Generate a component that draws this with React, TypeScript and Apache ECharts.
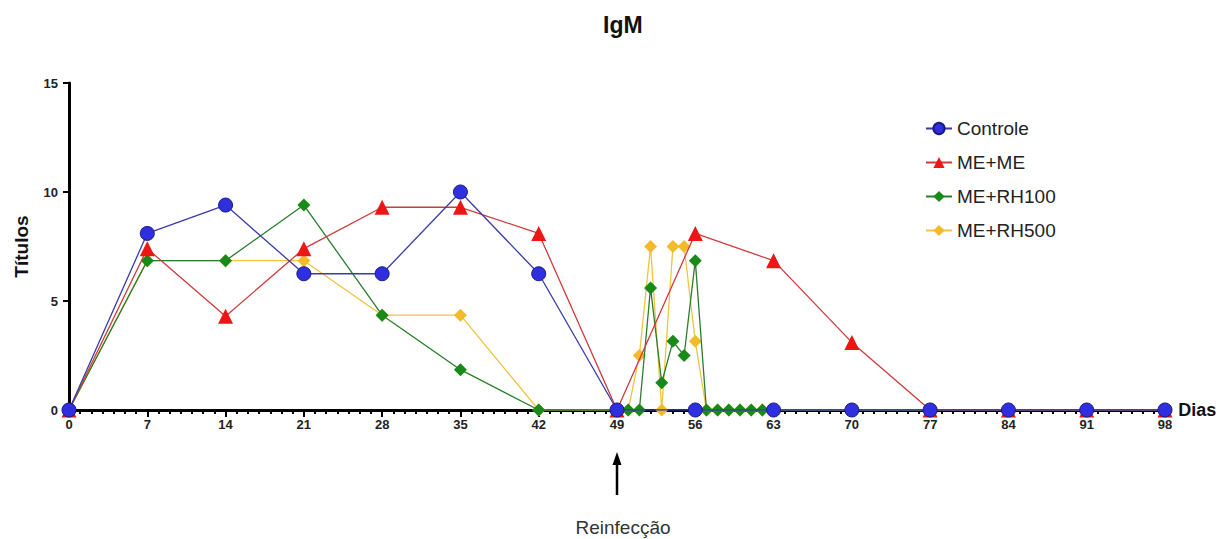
import React, { useEffect, useRef } from "react";
import * as echarts from "echarts";

const weeklyDays = [0, 7, 14, 21, 28, 35, 42, 49, 56, 63, 70, 77, 84, 91, 98];
const controleValues = [0, 8.1, 9.4, 6.25, 6.25, 10, 6.25, 0, 0, 0, 0, 0, 0, 0, 0];
const meMeValues = [0, 7.4, 4.3, 7.4, 9.3, 9.3, 8.1, 0, 8.1, 6.85, 3.1, 0, 0, 0, 0];

const rhDays = [0, 7, 14, 21, 28, 35, 42, 49, 50, 51, 52, 53, 54, 55, 56, 57, 58, 59, 60, 61, 62, 63, 70, 77, 84, 91, 98];
const rh100Values = [0, 6.85, 6.85, 9.4, 4.35, 1.85, 0, 0, 0, 0, 5.6, 1.25, 3.15, 2.5, 6.85, 0, 0, 0, 0, 0, 0, 0, 0, 0, 0, 0, 0];
const rh500Values = [0, 6.85, 6.85, 6.85, 4.35, 4.35, 0, 0, 0, 2.5, 7.5, 0, 7.5, 7.5, 3.15, 0, 0, 0, 0, 0, 0, 0, 0, 0, 0, 0, 0];

const seriesNames = ["Controle", "ME+ME", "ME+RH100", "ME+RH500"];
const titleText = "IgM";
const yAxisName = "Títulos";
const xAxisName = "Dias";
const annotationText = "Reinfecção";
const annotationDay = 49;

const pairs = (xs: number[], ys: number[]) => xs.map((x, i) => [x, ys[i]]);

export default function App() {
  const ref = useRef<HTMLDivElement>(null);
  useEffect(() => {
    if (!ref.current) return;
    const chart = echarts.init(ref.current, undefined, { renderer: "svg" });
    const font = "Liberation Sans, Arial, sans-serif";
    chart.setOption({
      animation: false,
      textStyle: { fontFamily: font },
      title: {
        text: titleText,
        left: 598,
        top: 8,
        textStyle: { fontSize: 23, fontWeight: "bold", color: "#111", fontFamily: font },
      },
      legend: {
        orient: "vertical",
        left: 920,
        top: 114,
        itemWidth: 26,
        itemHeight: 14,
        itemGap: 15,
        textStyle: { fontSize: 19, color: "#222", fontFamily: font },
        data: seriesNames,
      },
      grid: { left: 69, right: 56, top: 83, bottom: 129, containLabel: false },
      xAxis: {
        type: "value",
        min: 0,
        max: 98,
        interval: 7,
        name: xAxisName,
        nameLocation: "end",
        nameGap: 6,
        nameTextStyle: { fontSize: 18, fontWeight: "bold", color: "#111", fontFamily: font },
        axisLine: { show: true, lineStyle: { color: "#000", width: 3 } },
        axisTick: { show: true, length: 7, lineStyle: { color: "#000", width: 2 } },
        minorTick: { show: true, splitNumber: 7, length: 4, lineStyle: { color: "#000", width: 2 } },
        splitLine: { show: false },
        axisLabel: { fontSize: 13, fontWeight: "bold", color: "#222", margin: 8, fontFamily: font },
      },
      yAxis: {
        type: "value",
        min: 0,
        max: 15,
        interval: 5,
        name: yAxisName,
        nameLocation: "middle",
        nameGap: 38,
        nameTextStyle: { fontSize: 19, fontWeight: "bold", color: "#111", fontFamily: font },
        axisLine: { show: true, lineStyle: { color: "#000", width: 3 } },
        axisTick: { show: true, length: 6, lineStyle: { color: "#000", width: 2 } },
        splitLine: { show: false },
        axisLabel: { fontSize: 13, fontWeight: "bold", color: "#222", margin: 11, fontFamily: font },
      },
      series: [
        {
          name: seriesNames[0],
          type: "line",
          z: 5,
          data: pairs(weeklyDays, controleValues),
          symbol: "circle",
          symbolSize: 14,
          itemStyle: { color: "#2f2fe0", borderColor: "#1a1a80", borderWidth: 1 },
          lineStyle: { color: "#3a3aa8", width: 1.3 },
        },
        {
          name: seriesNames[1],
          type: "line",
          z: 4,
          data: pairs(weeklyDays, meMeValues),
          symbol: "triangle",
          symbolSize: 15,
          itemStyle: { color: "#ee1515" },
          lineStyle: { color: "#d03a3a", width: 1.3 },
        },
        {
          name: seriesNames[2],
          type: "line",
          z: 3,
          data: pairs(rhDays, rh100Values),
          symbol: "diamond",
          symbolSize: 13,
          itemStyle: { color: "#178a17" },
          lineStyle: { color: "#2a7d2a", width: 1.3 },
        },
        {
          name: seriesNames[3],
          type: "line",
          z: 2,
          data: pairs(rhDays, rh500Values),
          symbol: "diamond",
          symbolSize: 13,
          itemStyle: { color: "#f3bb2a" },
          lineStyle: { color: "#f0c440", width: 1.3 },
        },
      ],
    });
    const px = chart.convertToPixel({ xAxisIndex: 0 }, annotationDay) as number;
    chart.setOption({
      graphic: [
        {
          type: "line",
          shape: { x1: px, y1: 495, x2: px, y2: 460 },
          style: { stroke: "#000", lineWidth: 2.5 },
        },
        {
          type: "polygon",
          shape: { points: [[px, 452], [px - 4.5, 465], [px + 4.5, 465]] },
          style: { fill: "#000" },
        },
        {
          type: "text",
          x: px + 6,
          y: 527,
          style: {
            text: annotationText,
            fontSize: 19,
            fill: "#333",
            fontFamily: font,
            align: "center",
            verticalAlign: "middle",
          },
        },
      ],
    });
    return () => chart.dispose();
  }, []);
  return (
    <div
      ref={ref}
      style={{ position: "absolute", left: 0, top: 0, width: 1221, height: 539, background: "#fff" }}
    />
  );
}
